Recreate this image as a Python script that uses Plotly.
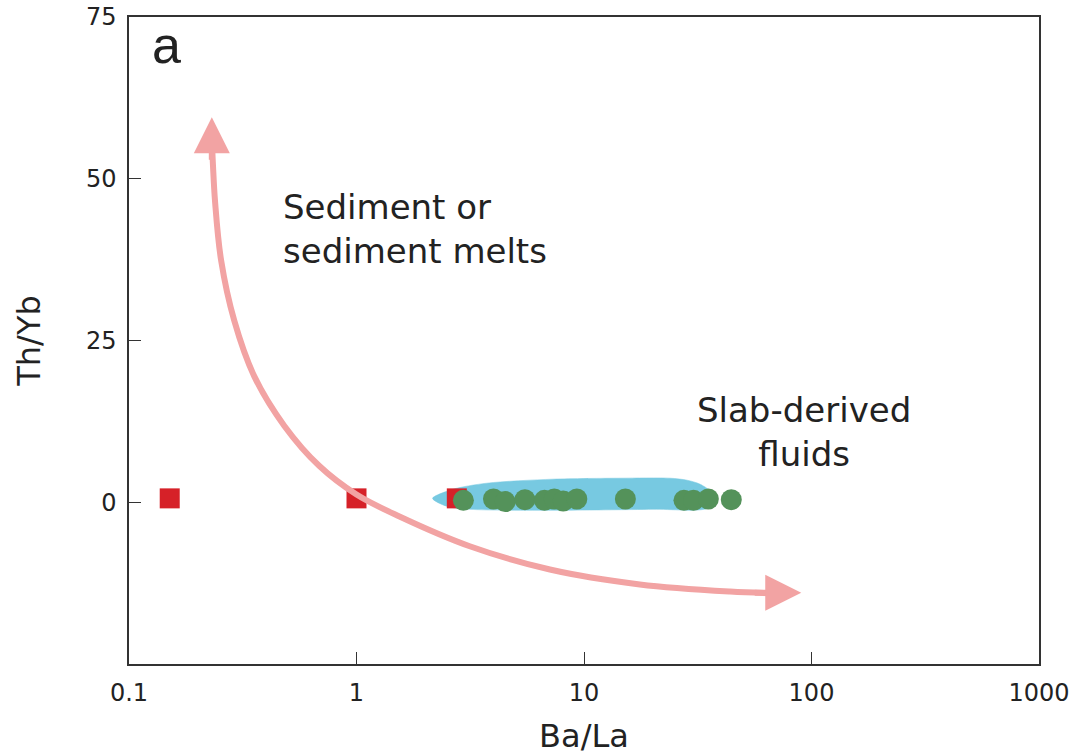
import plotly.graph_objects as go

# ---- data ----
red_x = [0.151, 1.0, 2.76]
red_y = [0.6, 0.6, 0.6]

green_x = [2.95, 4.0, 4.5, 5.5, 6.7, 7.4, 8.1, 9.3, 15.2, 27.5, 30.3, 35.2, 44.4]
green_y = [0.3, 0.5, 0.1, 0.4, 0.3, 0.5, 0.2, 0.5, 0.5, 0.3, 0.3, 0.5, 0.4]

# outline of the "slab-derived fluids" field
field_x = [2.16, 2.65, 3.74, 7.3, 14.4, 23.9, 28.4, 32.4, 35.9, 37.0, 34.8, 20.1, 7.3, 3.15, 2.49, 2.16]
field_y = [0.6, 2.0, 2.95, 3.57, 3.72, 3.72, 3.41, 2.79, 1.71, 0.47, -0.93, -1.09, -1.24, -1.09, -0.62, 0.6]

# trend curve
curve_x = [0.232, 0.234, 0.239, 0.254, 0.290, 0.355, 0.482, 0.687, 1.0, 1.545, 3.147, 7.08, 17.6, 43.9, 75.0]
curve_y = [55.0, 52.0, 46.4, 37.4, 28.1, 19.5, 11.8, 5.6, 1.2, -2.2, -6.8, -10.4, -12.7, -13.8, -14.1]

x_ticks = [0.1, 1, 10, 100, 1000]
x_ticklabels = ["0.1", "1", "10", "100", "1000"]
y_ticks = [0, 25, 50, 75]
y_ticklabels = ["0", "25", "50", "75"]

PINK = "#f2a3a3"
TXT = "#222222"

fig = go.Figure()

fig.add_trace(go.Scatter(
    x=field_x, y=field_y, mode="lines", fill="toself",
    fillcolor="#77c9e1", line=dict(color="#77c9e1", width=0.5, shape="spline", smoothing=0.8),
    hoverinfo="skip", showlegend=False))

fig.add_trace(go.Scatter(
    x=red_x, y=red_y, mode="markers",
    marker=dict(symbol="square", size=20, color="#d62128", line=dict(width=0)),
    showlegend=False))

fig.add_trace(go.Scatter(
    x=curve_x, y=curve_y, mode="lines",
    line=dict(color=PINK, width=6, shape="spline", smoothing=1.0),
    hoverinfo="skip", showlegend=False))

fig.add_trace(go.Scatter(
    x=green_x, y=green_y, mode="markers",
    marker=dict(symbol="circle", size=21, color="#54925a", line=dict(width=0)),
    showlegend=False))

# arrowheads at the two ends of the curve
fig.add_annotation(x=-0.636, y=59.5, xref="x", yref="y", ax=0, ay=44, text="",
                   showarrow=True, arrowhead=2, arrowsize=1.2, arrowwidth=6, arrowcolor=PINK)
fig.add_annotation(x=1.955, y=-14.0, xref="x", yref="y", ax=-48, ay=0, text="",
                   showarrow=True, arrowhead=2, arrowsize=1.2, arrowwidth=6, arrowcolor=PINK)

FONT = "DejaVu Sans"
def label(txt, x, y, anchor="left", size=34):
    fig.add_annotation(x=x, y=y, xref="x", yref="y", text=txt, showarrow=False,
                       xanchor=anchor, yanchor="middle", align=anchor,
                       font=dict(family=FONT, size=size, color=TXT))

# x positions given as log10 values (log axis)
label("Sediment or<br>sediment melts", -0.330, 42.2)
label("Slab-derived<br>fluids", 1.968, 10.8, anchor="center")
fig.add_annotation(x=-0.837, y=70.6, xref="x", yref="y", text="a", showarrow=False,
                   xanchor="center", yanchor="middle",
                   font=dict(family="Liberation Sans", size=52, color=TXT))

fig.update_layout(
    width=1079, height=755,
    margin=dict(l=129, r=40, t=17, b=91),
    paper_bgcolor="white", plot_bgcolor="white",
    showlegend=False,
    font=dict(family=FONT, color=TXT),
)
fig.update_xaxes(
    type="log", range=[-1, 3], tickvals=x_ticks, ticktext=x_ticklabels,
    ticks="inside", ticklen=12, tickwidth=1.2, tickcolor="#333",
    showline=True, linecolor="#333", linewidth=1.5, mirror=True,
    showgrid=False, zeroline=False, automargin=False,
    tickfont=dict(family=FONT, size=24, color=TXT), ticklabelstandoff=6,
    title=dict(text="Ba/La", font=dict(family=FONT, size=32, color=TXT), standoff=24),
)
fig.update_yaxes(
    range=[-25, 75], tickvals=y_ticks, ticktext=y_ticklabels,
    ticks="inside", ticklen=12, tickwidth=1.2, tickcolor="#333",
    showline=True, linecolor="#333", linewidth=1.5, mirror=True,
    showgrid=False, zeroline=False, automargin=False,
    tickfont=dict(family=FONT, size=24, color=TXT), ticklabelstandoff=6,
    title=dict(text="Th/Yb", font=dict(family=FONT, size=32, color=TXT), standoff=36),
)

fig.write_html("out.html")
